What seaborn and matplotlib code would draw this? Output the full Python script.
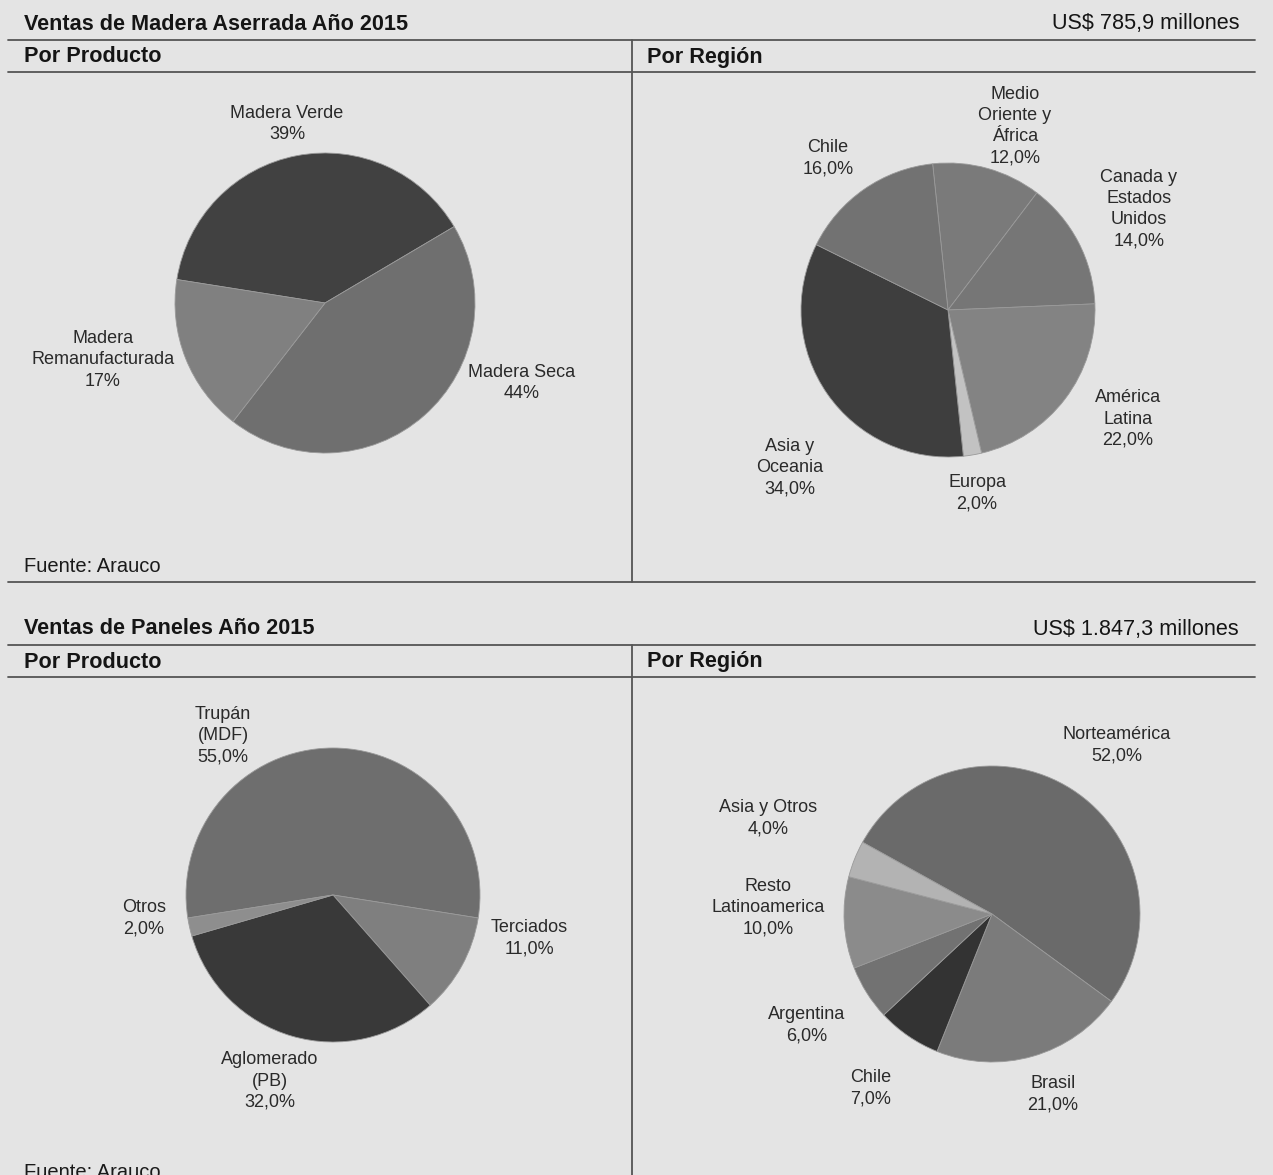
import matplotlib
matplotlib.use("Agg")
import matplotlib.pyplot as plt
import seaborn as sns

sns.set_theme(style="white")
plt.rcParams['font.family'] = ['Liberation Sans', 'DejaVu Sans']

# ---------------- data ----------------
madera_prod_labels = ["Madera Verde\n39%", "Madera Seca\n44%", "Madera\nRemanufacturada\n17%"]
madera_prod_values = [39, 44, 17]

madera_reg_labels = ["Medio\nOriente y\nÁfrica\n12,0%", "Canada y\nEstados\nUnidos\n14,0%",
                     "América\nLatina\n22,0%", "Europa\n2,0%", "Asia y\nOceania\n34,0%", "Chile\n16,0%"]
madera_reg_values = [12, 14, 22, 2, 34, 16]

paneles_prod_labels = ["Trupán\n(MDF)\n55,0%", "Terciados\n11,0%", "Aglomerado\n(PB)\n32,0%", "Otros\n2,0%"]
paneles_prod_values = [55, 11, 32, 2]

paneles_reg_labels = ["Norteamérica\n52,0%", "Brasil\n21,0%", "Chile\n7,0%", "Argentina\n6,0%",
                      "Resto\nLatinoamerica\n10,0%", "Asia y Otros\n4,0%"]
paneles_reg_values = [52, 21, 7, 6, 10, 4]

titles = ["Ventas de Madera Aserrada Año 2015", "Ventas de Paneles Año 2015"]
totals = ["US$ 785,9 millones", "US$ 1.847,3 millones"]
subtitles = ["Por Producto", "Por Región"]
source = "Fuente: Arauco"

# ---------------- styles / layout ----------------
W, H = 1273, 1175
BG = "#e4e4e4"
fig = plt.figure(figsize=(W / 100, H / 100), dpi=100, facecolor=BG)

bg = fig.add_axes([0, 0, 1, 1])
bg.set_xlim(0, W)
bg.set_ylim(H, 0)
bg.axis("off")
bg.set_facecolor(BG)

LC = "#555555"
title_kw = dict(fontsize=15.6, fontweight="bold", color="#151515", va="center")
lab_kw = dict(fontsize=13, color="#2a2a2a", ha="center", va="center", linespacing=1.32)

for i, off in enumerate((0, 605)):
    bg.text(24, 24 + off, titles[i], ha="left", **title_kw)
    bg.text(1239, 24 + off, totals[i], ha="right", fontsize=15.6, color="#151515", va="center")
    bg.plot([8, 1255], [40 + off, 40 + off], color=LC, lw=1.3)
    bg.text(24, 57 + off, subtitles[0], ha="left", **title_kw)
    bg.text(647, 57 + off, subtitles[1], ha="left", **title_kw)
    bg.plot([8, 1255], [72 + off, 72 + off], color=LC, lw=1.3)
    bg.plot([632, 632], [40 + off, min(582 + off, H)], color=LC, lw=1.3)
    bg.text(24, 567 + off, source, ha="left", va="center", fontsize=14.5, color="#1a1a1a")
bg.plot([8, 1255], [582, 582], color=LC, lw=1.3)


def pie(cx, cy, r, values, colors, start, labels, label_pos):
    ax = fig.add_axes([(cx - r) / W, 1 - (cy + r) / H, 2 * r / W, 2 * r / H])
    ax.pie(values, colors=colors, startangle=start, counterclock=False, radius=1,
           wedgeprops=dict(linewidth=0.6, edgecolor="#9a9a9a"))
    ax.set_xlim(-1, 1)
    ax.set_ylim(-1, 1)
    ax.set_aspect("equal")
    ax.axis("off")
    for lab, (px, py) in zip(labels, label_pos):
        bg.text(px, py, lab, **lab_kw)
    return ax


# Madera por producto
pie(325, 303, 150, madera_prod_values, ["#414141", "#6f6f6f", "#808080"], 171,
    madera_prod_labels, [(287, 124), (522, 383), (103, 360)])
# Madera por region
pie(948, 310, 147, madera_reg_values,
    ["#7a7a7a", "#767676", "#838383", "#c2c2c2", "#3e3e3e", "#727272"], 96,
    madera_reg_labels, [(1015, 126), (1139, 209), (1128, 419), (977, 493), (790, 468), (828, 158)])
# Paneles por producto
pie(333, 895, 147, paneles_prod_values, ["#6e6e6e", "#7f7f7f", "#393939", "#8e8e8e"], 189,
    paneles_prod_labels, [(223, 736), (529, 938), (270, 1081), (144, 918)])
# Paneles por region
pie(992, 914, 148, paneles_reg_values,
    ["#6a6a6a", "#7b7b7b", "#333333", "#727272", "#8b8b8b", "#b3b3b3"], 151,
    paneles_reg_labels, [(1117, 745), (1053, 1094), (871, 1088), (807, 1025), (768, 908), (768, 818)])

fig.savefig("out.png", dpi=100, facecolor=BG)
